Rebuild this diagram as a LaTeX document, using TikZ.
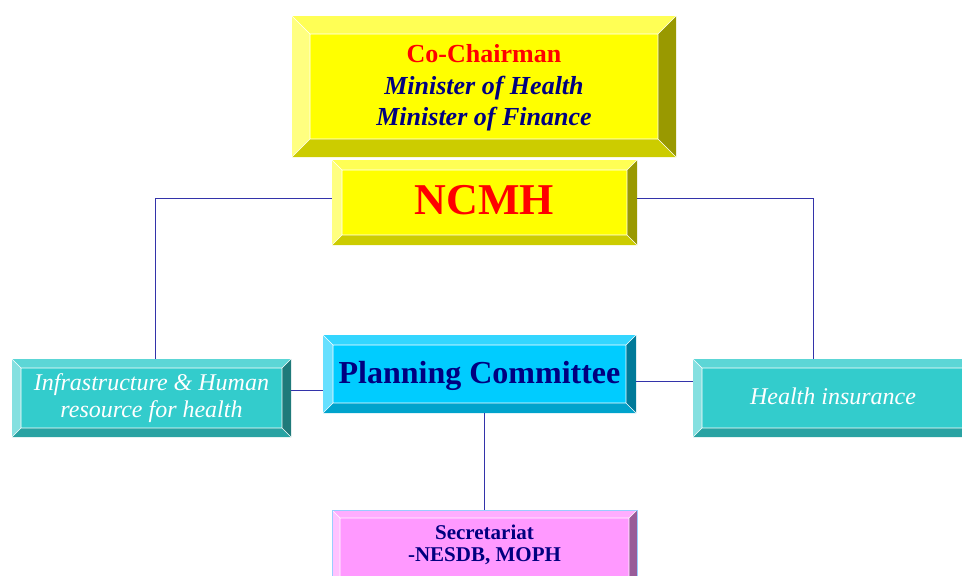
\documentclass[tikz,border=0pt]{standalone}
\usepackage{fontspec}
\setmainfont{Liberation Serif}
\usetikzlibrary{calc}
\definecolor{navyt}{RGB}{0,0,128}
\definecolor{redt}{RGB}{255,0,0}
\definecolor{linec}{RGB}{51,51,170}
\definecolor{yface}{RGB}{255,255,0}
\definecolor{ytop}{RGB}{255,255,85}
\definecolor{yleft}{RGB}{255,255,128}
\definecolor{ybot}{RGB}{204,204,0}
\definecolor{yright}{RGB}{153,153,0}
\definecolor{cface}{RGB}{0,204,255}
\definecolor{ctop}{RGB}{51,214,255}
\definecolor{cleft}{RGB}{102,224,255}
\definecolor{cbot}{RGB}{0,163,204}
\definecolor{cright}{RGB}{0,122,153}
\definecolor{tface}{RGB}{51,204,204}
\definecolor{ttop}{RGB}{92,214,214}
\definecolor{tleft}{RGB}{133,224,224}
\definecolor{tbot}{RGB}{41,163,163}
\definecolor{tright}{RGB}{31,122,122}
\definecolor{pface}{RGB}{255,153,255}
\definecolor{ptop}{RGB}{255,173,255}
\definecolor{pleft}{RGB}{255,194,255}
\definecolor{pbot}{RGB}{204,122,204}
\definecolor{pright}{RGB}{153,92,153}
\definecolor{pedge}{RGB}{153,204,255}
\tikzset{
  bevel/.style n args={6}{fill=#1, inner sep=0pt, align=center, path picture={
    \path (path picture bounding box.south west) coordinate (bsw)
          (path picture bounding box.north east) coordinate (bne);
    \path (bsw -| bne) coordinate (bse) (bne -| bsw) coordinate (bnw);
    \path ($(bsw)+(#6pt,#6pt)$) coordinate (isw) ($(bne)+(-#6pt,-#6pt)$) coordinate (ine);
    \path (isw -| ine) coordinate (ise) (ine -| isw) coordinate (inw);
    \fill[#2] (bnw) -- (bne) -- (ine) -- (inw) -- cycle;
    \fill[#3] (bnw) -- (inw) -- (isw) -- (bsw) -- cycle;
    \fill[#4] (bsw) -- (isw) -- (ise) -- (bse) -- cycle;
    \fill[#5] (bse) -- (ise) -- (ine) -- (bne) -- cycle;
    \draw[white, line width=0.6pt] (bnw) -- (inw) (bne) -- (ine) (bsw) -- (isw) (bse) -- (ise) (isw) rectangle (ine);
  }},
  yellowbox/.style={bevel={yface}{ytop}{yleft}{ybot}{yright}{#1}},
  cyanbox/.style={bevel={cface}{ctop}{cleft}{cbot}{cright}{#1}},
  tealbox/.style={bevel={tface}{ttop}{tleft}{tbot}{tright}{#1}},
  pinkbox/.style={bevel={pface}{ptop}{pleft}{pbot}{pright}{#1}, draw=pedge, line width=0.8pt},
  conn/.style={draw=linec, line width=0.8pt},
}
\begin{document}
\begin{tikzpicture}[x=1pt, y=-1pt]
\useasboundingbox (0,0) rectangle (962,576);
\clip (0,0) rectangle (962,576);
% boxes
\node[yellowbox=18, minimum width=384pt, minimum height=141pt] (chair) at (484,86.5) {};
\node[align=center, font=\fontsize{26}{31.5}\selectfont\bfseries] (chairt) at (484,88)
  {\textcolor{redt}{Co-Chairman}\\
   \textcolor{navyt}{\itshape Minister of Health}\\
   \textcolor{navyt}{\itshape Minister of Finance}};
\node[yellowbox=10, minimum width=305pt, minimum height=85pt] (ncmh) at (484.5,202.5) {};
\node[text=redt, font=\fontsize{44}{44}\selectfont\bfseries] (ncmht) at (484.5,200) {NCMH};
\node[cyanbox=10, minimum width=313pt, minimum height=78pt] (plan) at (479.5,374) {};
\node[text=navyt, font=\fontsize{32}{32}\selectfont\bfseries] (plant) at (479.5,376) {Planning Committee};
\node[tealbox=9, minimum width=279pt, minimum height=78pt] (infra) at (151.5,398) {};
\node[text=white, align=center, font=\fontsize{24}{27}\selectfont\itshape] (infrat) at (151.5,398.5) {Infrastructure \& Human\\resource for health};
\node[tealbox=9, minimum width=282pt, minimum height=78pt] (hins) at (834,398) {};
\node[text=white, font=\fontsize{24}{26}\selectfont\itshape] (hinst) at (833,396) {Health insurance};
\node[pinkbox=8, minimum width=305pt, minimum height=90pt] (sec) at (484.5,555) {};
\node[text=navyt, align=center, font=\fontsize{21}{22}\selectfont\bfseries] (sect) at (484.5,545) {Secretariat\\-NESDB, MOPH};
% connectors
\coordinate (hinsin) at ($(hins.north west)!0.426!(hins.north east)$);
\coordinate (planl) at ($(plan.north west)!0.705!(plan.south west)$);
\coordinate (planr) at ($(plan.north east)!0.6!(plan.south east)$);
\draw[conn] ($(ncmh.north west)!0.45!(ncmh.south west)$) -| ($(infra.north)+(3.5,0)$);
\draw[conn] ($(ncmh.north east)!0.45!(ncmh.south east)$) -| (hinsin);
\draw[conn] ($(ncmh.south)+(-8.5,0)$) -- ($(ncmh.south)+(-8.5,0)$ |- plan.north);
\draw[conn] (plan.south -| sec.north) -- (sec.north);
\draw[conn] (planl) -- (planl -| infra.east);
\draw[conn] (planr) -- (planr -| hins.west);
\end{tikzpicture}
\end{document}
